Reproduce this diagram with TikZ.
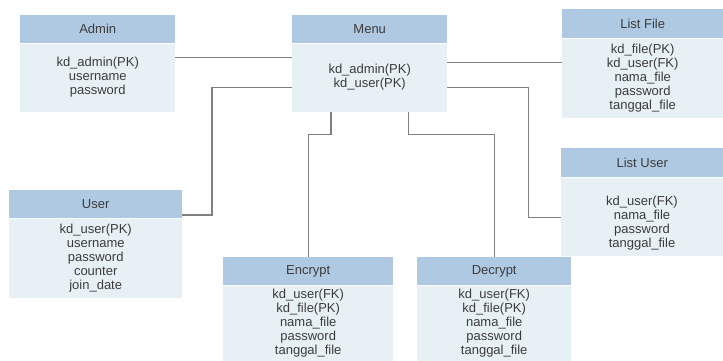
\documentclass[tikz,border=0pt]{standalone}
\usepackage{fontspec}
\setmainfont{Liberation Sans}
\definecolor{hdr}{HTML}{AFC9E2}
\definecolor{bdy}{HTML}{E7F0F4}
\definecolor{txt}{HTML}{3C3C3C}
\definecolor{ln}{HTML}{808080}
\begin{document}
\begin{tikzpicture}[x=1pt,y=-1pt,
  tfont/.style={font=\fontsize{13}{14}\selectfont, text=txt},
  hdrbox/.style={tfont, fill=hdr, draw=none, anchor=north west, inner sep=0pt, align=center},
  bdybox/.style={tfont, fill=bdy, draw=none, anchor=north west, inner sep=0pt, align=center},
  conn/.style={draw=ln, line width=1.1pt}]
\useasboundingbox (0,0) rectangle (723,360);
\clip (0,0) rectangle (723,360);
% Admin
\node[hdrbox, minimum width=155pt, minimum height=28pt] (adminh) at (20,15) {Admin};
\node[bdybox, minimum width=155pt, minimum height=68pt] (adminb) at (adminh.south west) {kd\_admin(PK)\\username\\password};
% Menu
\node[hdrbox, minimum width=155pt, minimum height=28pt] (menuh) at (292,15) {Menu};
\node[bdybox, minimum width=155pt, minimum height=68pt] (menub) at (menuh.south west) {kd\_admin(PK)\\kd\_user(PK)};
% List File
\node[hdrbox, minimum width=161pt, minimum height=29pt] (lfh) at (562,9) {List File};
\node[bdybox, minimum width=161pt, minimum height=79pt] (lfb) at (lfh.south west) {kd\_file(PK)\\kd\_user(FK)\\nama\_file\\password\\tanggal\_file};
% User
\node[hdrbox, minimum width=173pt, minimum height=28pt] (userh) at (9,190) {User};
\node[bdybox, minimum width=173pt, minimum height=79pt] (userb) at (userh.south west) {kd\_user(PK)\\username\\password\\counter\\join\_date};
% List User
\node[hdrbox, minimum width=162pt, minimum height=29pt] (luh) at (561,148) {List User};
\node[bdybox, minimum width=162pt, minimum height=78pt] (lub) at (luh.south west) {};
\node[tfont, align=center, inner sep=0pt] (lut) at (642,223) {kd\_user(FK)\\nama\_file\\password\\tanggal\_file};
% Encrypt
\node[hdrbox, minimum width=170pt, minimum height=28pt] (ench) at (223,257) {Encrypt};
\node[bdybox, minimum width=170pt, minimum height=76pt] (encb) at (ench.south west) {kd\_user(FK)\\kd\_file(PK)\\nama\_file\\password\\tanggal\_file};
% Decrypt
\node[hdrbox, minimum width=154pt, minimum height=28pt] (dech) at (417,257) {Decrypt};
\node[bdybox, minimum width=154pt, minimum height=76pt] (decb) at (dech.south west) {kd\_user(FK)\\kd\_file(PK)\\nama\_file\\password\\tanggal\_file};
% connectors
\draw[conn] ([yshift=-14pt]adminb.north east) -- ([yshift=-14pt]menub.north west);
\draw[conn] ([yshift=-44pt]menub.north west) -- ++(-80pt,0pt) |- ([yshift=-25pt]userh.north east);
\draw[conn] ([yshift=-19pt]menub.north east) -- ([yshift=-24pt]lfb.north west);
\draw[conn] ([yshift=-44pt]menub.north east) -- ++(81pt,0pt) |- ([yshift=-40pt]lub.north west);
\draw[conn] ([xshift=39pt]menub.south west) -- ++(0pt,-23pt) -| (ench.north);
\draw[conn] ([xshift=-39pt]menub.south east) -- ++(0pt,-23pt) -| (dech.north);
\end{tikzpicture}
\end{document}
